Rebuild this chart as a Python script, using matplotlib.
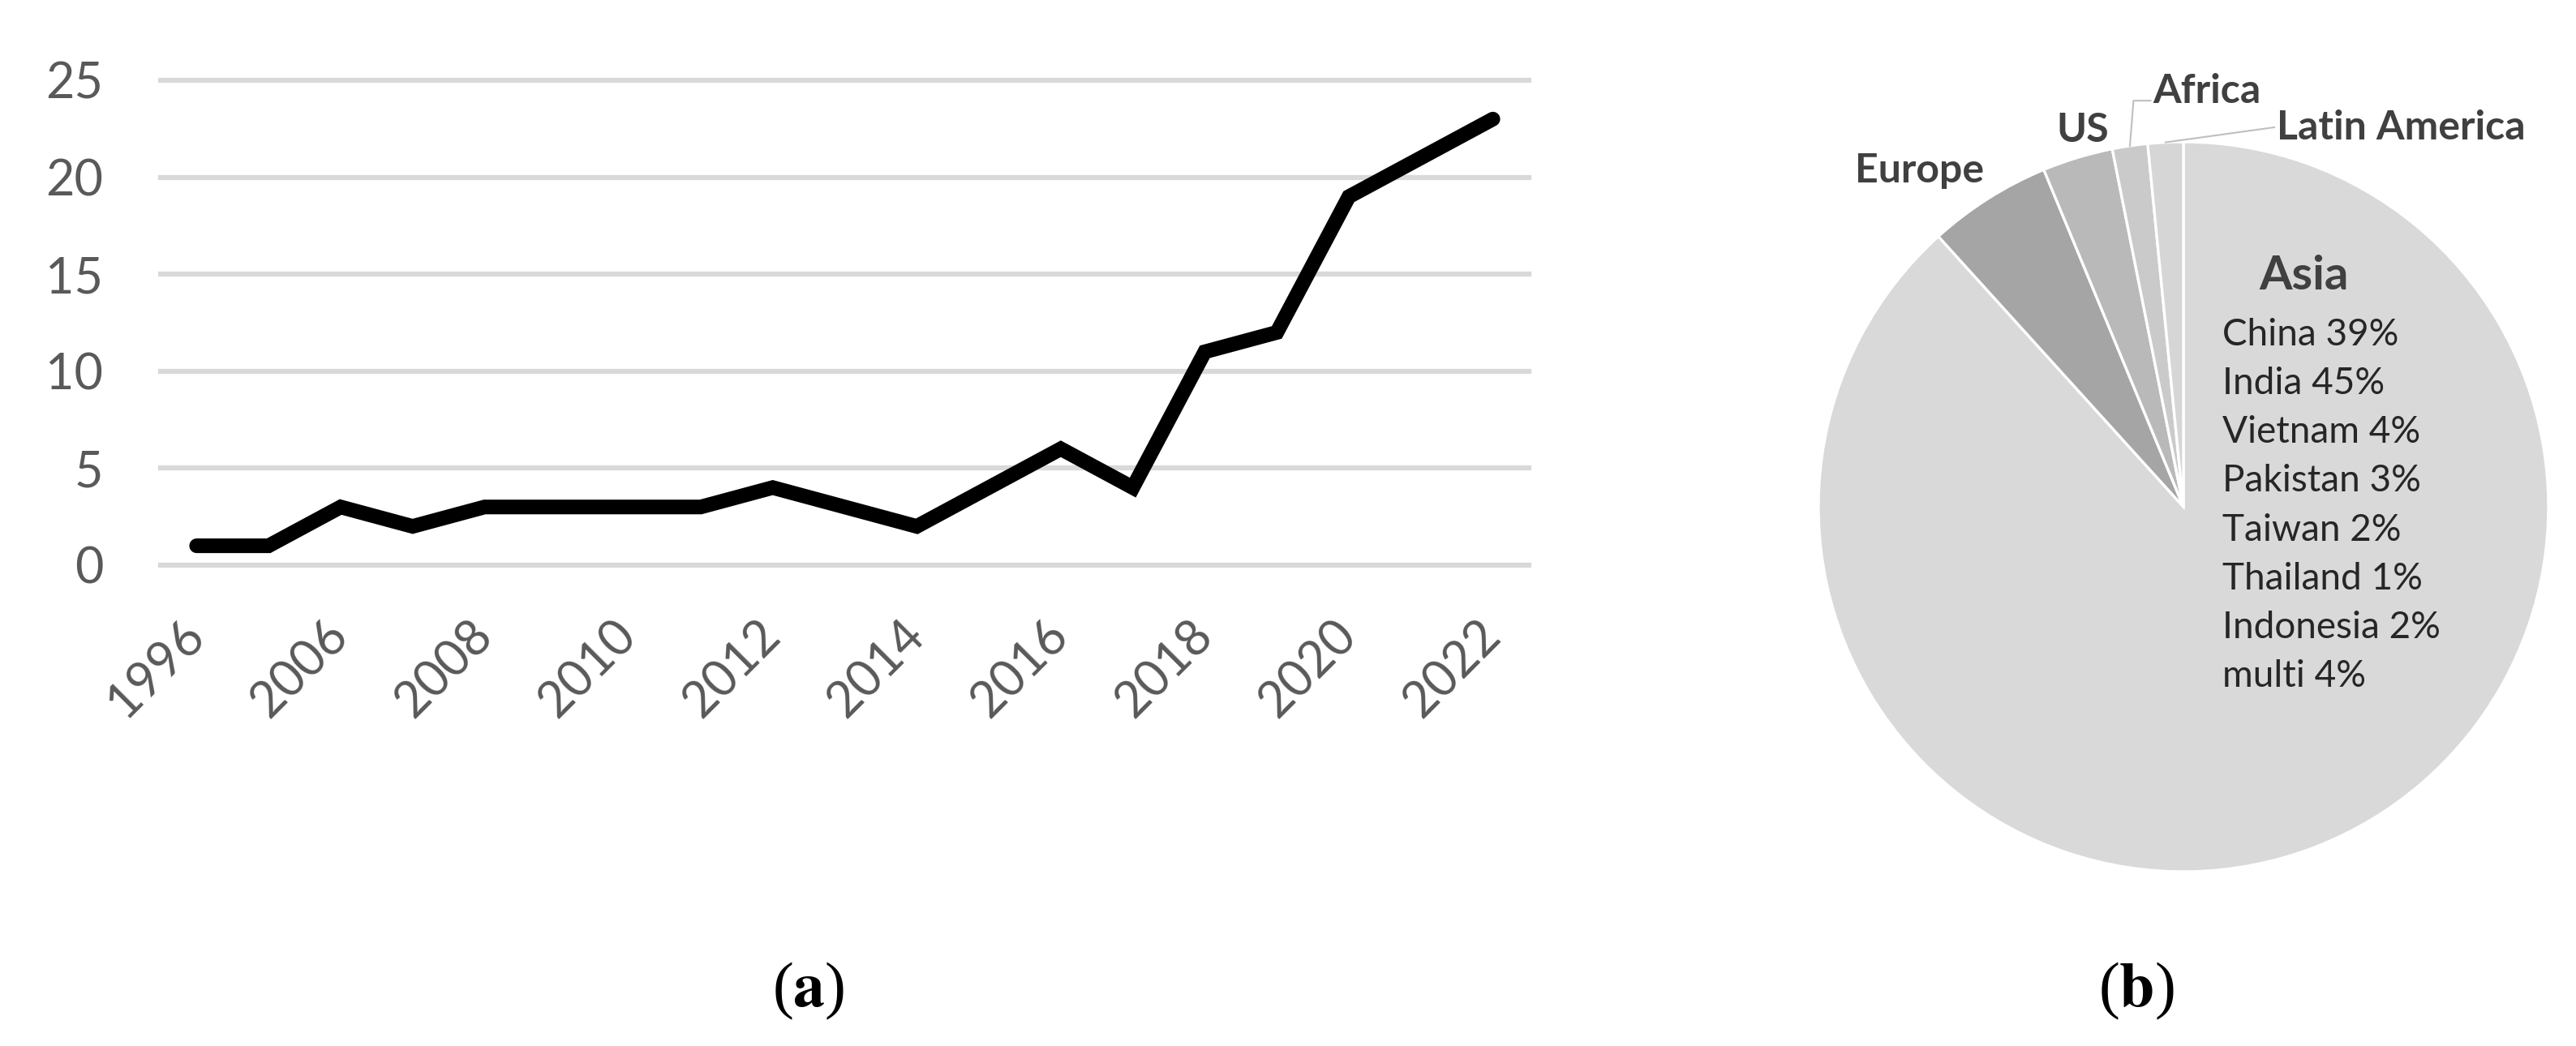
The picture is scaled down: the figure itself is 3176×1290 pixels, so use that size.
import matplotlib
matplotlib.use("Agg")
import matplotlib.pyplot as plt
import numpy as np

# ---------------- data ----------------
years = ["1996", "2005", "2006", "2007", "2008", "2009", "2010", "2011", "2012", "2013",
         "2014", "2015", "2016", "2017", "2018", "2019", "2020", "2021", "2022"]
counts = [1, 1, 3, 2, 3, 3, 3, 3, 4, 3, 2, 4, 6, 4, 11, 12, 19, 21, 23]
y_ticks = [0, 5, 10, 15, 20, 25]

regions = ["Asia", "Europe", "US", "Africa", "Latin America"]
region_counts = [113, 7, 4, 2, 2]
region_colors = ["#d9d9d9", "#a5a5a5", "#b9b9b9", "#cacaca", "#d6d6d6"]
asia_breakdown = ["China 39%", "India 45%", "Vietnam 4%", "Pakistan 3%",
                  "Taiwan 2%", "Thailand 1%", "Indonesia 2%", "multi 4%"]

FONT = ["Lato", "DejaVu Sans"]
W, H = 3176, 1290
fig = plt.figure(figsize=(W / 100, H / 100), dpi=100)

# ---------------- (a) line chart ----------------
ax = fig.add_axes([198 / W, 1 - 697 / H, (1885 - 198) / W, (697 - 99) / H])
x = np.arange(len(years))
ax.plot(x, counts, color="black", lw=13, solid_capstyle="round",
        solid_joinstyle="miter", zorder=3)
ax.set_xlim(-0.5, len(years) - 0.5)
ax.set_ylim(0, 25)
ax.set_yticks(y_ticks)
ax.set_yticklabels([str(v) for v in y_ticks], family=FONT, fontsize=44, color="#595959")
ax.set_xticks(x[::2])
ax.set_xticklabels(years[::2], family=FONT, fontsize=44, color="#595959",
                   rotation=45, ha="right", va="center", rotation_mode="anchor")
ax.tick_params(axis="both", length=0)
ax.tick_params(axis="y", pad=51)
ax.tick_params(axis="x", pad=56)
for s in ax.spines.values():
    s.set_visible(False)
ax.yaxis.grid(True, color="#d9d9d9", lw=4.5)
for gl in ax.get_ygridlines():
    gl.set_clip_on(False)
ax.set_axisbelow(True)

# ---------------- (b) pie chart ----------------
cx, cy, R = 2692, 625, 450
pax = fig.add_axes([(cx - R) / W, 1 - (cy + R) / H, 2 * R / W, 2 * R / H])
wedges, _ = pax.pie(region_counts, colors=region_colors, startangle=90, counterclock=False,
                    radius=1, wedgeprops=dict(edgecolor="white", linewidth=2.4))
pax.set_xlim(-1, 1)
pax.set_ylim(-1, 1)
pax.set_aspect("equal")
pax.axis("off")

lab_kw = dict(family=FONT, fontsize=36, fontweight="bold", color="#404040")
pax.text(-0.724, 0.922, regions[1], ha="center", va="center", **lab_kw)
pax.text(-0.276, 1.033, regions[2], ha="center", va="center", **lab_kw)
pax.text(-0.084, 1.138, regions[3], ha="left", va="center", clip_on=False, **lab_kw)
pax.text(0.256, 1.04, regions[4], ha="left", va="center", clip_on=False, **lab_kw)


def edge_point(w):
    th = np.deg2rad((w.theta1 + w.theta2) / 2)
    return np.cos(th), np.sin(th)


ax0, ay0 = edge_point(wedges[3])
pax.plot([ax0, ax0 + 0.01, -0.09], [ay0, 1.113, 1.113], color="#bfbfbf", lw=1.5, clip_on=False)
lx0, ly0 = edge_point(wedges[4])
pax.plot([lx0, 0.249], [ly0, 1.04], color="#bfbfbf", lw=1.5, clip_on=False)

pax.text(0.331, 0.633, regions[0], ha="center", va="center", family=FONT,
         fontsize=42, fontweight="bold", color="#404040")
for i, t in enumerate(asia_breakdown):
    pax.text(0.107, 0.471 - i * 0.1336, t, ha="left", va="center", family=FONT,
             fontsize=33, color="#262626")

# ---------------- panel labels ----------------
for xc, letter in [(997, "a"), (2634, "b")]:
    fig.text(xc / W, 1 - 1222 / H, "(" + r"$\mathbf{" + letter + "}$" + ")",
             ha="center", va="center", family="Liberation Serif", fontsize=56,
             color="black", math_fontfamily="stix")

fig.savefig("out.png", dpi=100, facecolor="white")
